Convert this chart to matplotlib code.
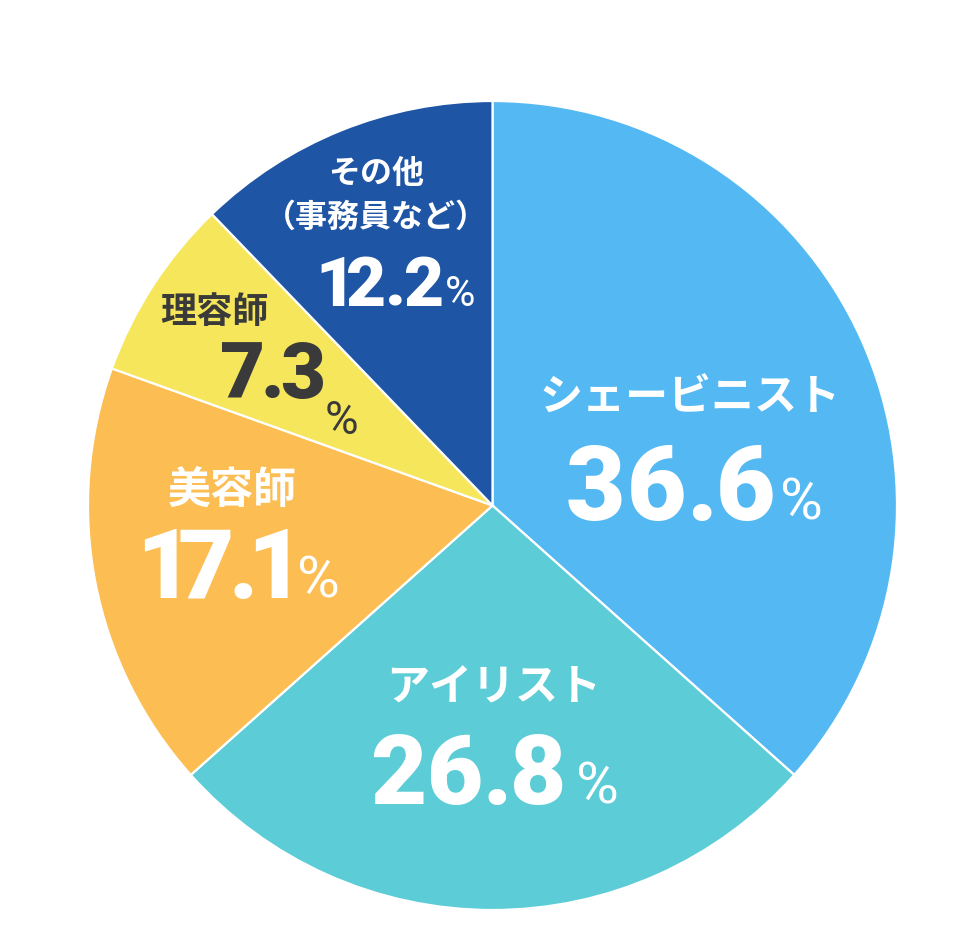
import matplotlib.pyplot as plt
from matplotlib.font_manager import FontProperties
from matplotlib.textpath import TextPath

# --------------------------------------------------
# data
# --------------------------------------------------
labels = ["シェービニスト", "アイリスト", "美容師", "理容師", "その他\n（事務員など）"]
values = [36.6, 26.8, 17.1, 7.3, 12.2]
colors = ["#54B9F3", "#5CCCD7", "#FCBD52", "#F6E65B", "#1F55A5"]
text_colors = ["white", "white", "white", "#3A3A3A", "white"]

# label layout in pixels (x, y from top): label centre, number right edge / baseline
label_pos = [(690, 398), (494, 688), (232, 490), (214, 312), (376, 196)]
label_size = [31, 31, 31, 26, 23]
num_pos = [(772, 520), (562, 804), (287, 598), (322, 398), (442, 306)]
num_size = [74, 70, 70, 56, 50]
num_gap = [9, 8, 4, 3, 5]
pct_size = [42, 42, 42, 33, 30]
pct_offset = [(8, 0), (14, 0), (10, 0), (3, 36), (3, 0)]

W, H = 958, 944
CJK = ["Noto Sans CJK JP", "DejaVu Sans"]
NUM = ["Roboto", "DejaVu Sans"]

fig = plt.figure(figsize=(W / 100, H / 100), dpi=100)
ax = fig.add_axes([0, 0, 1, 1])

ax.pie(
    values,
    colors=colors,
    startangle=90,
    counterclock=False,
    center=(492.5, H - 505.5),
    radius=404.5,
    wedgeprops=dict(edgecolor="white", linewidth=1.6),
    frame=True,
)
ax.set_xlim(0, W)
ax.set_ylim(0, H)
ax.set_aspect("equal")
ax.axis("off")


def draw_number(x_right, y_base, s, size, gap, color):
    # space glyphs by their ink extent so the digits sit tight like the original
    fp = FontProperties(family=NUM, weight="heavy")
    ink = []
    for ch in s:
        ext = TextPath((0, 0), ch, size=size * 100 / 72, prop=fp).get_extents()
        ink.append((ext.x0, ext.x1))
    total = sum(b - a for a, b in ink) + gap * (len(s) - 1)
    x = x_right - total
    for ch, (a, b) in zip(s, ink):
        ax.text(x - a, y_base, ch, ha="left", va="baseline", fontsize=size,
                fontweight="heavy", color=color, family=NUM)
        x += (b - a) + gap


for i in range(len(values)):
    lx, ly = label_pos[i]
    ax.text(lx, H - ly, labels[i], ha="center", va="center", fontsize=label_size[i],
            fontweight="bold", color=text_colors[i], family=CJK, linespacing=1.45)
    nx, ny = num_pos[i]
    draw_number(nx, H - ny, f"{values[i]:.1f}", num_size[i], num_gap[i], text_colors[i])
    ox, oy = pct_offset[i]
    ax.text(nx + ox, H - ny - oy, "%", ha="left", va="baseline",
            fontsize=pct_size[i], fontweight="normal", color=text_colors[i], family=NUM)

fig.savefig("out.png", dpi=100)
